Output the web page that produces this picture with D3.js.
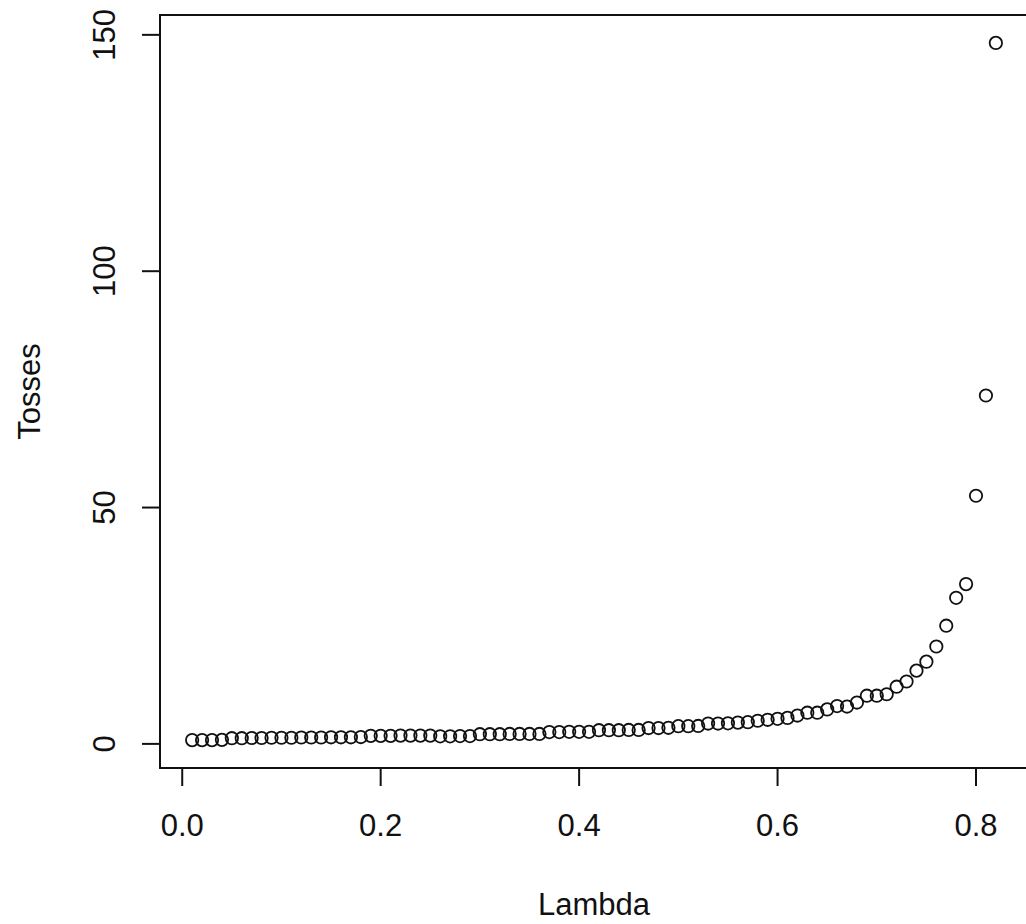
<!DOCTYPE html>
<html>
<head>
<meta charset="utf-8">
<script src="https://cdn.jsdelivr.net/npm/d3@7"></script>
<style>
    body { margin: 0; background: #fff; }
    text { font-family: "Liberation Sans", Arial, sans-serif; fill: #111; }
</style>
</head>
<body>
<div id="chart"></div>
<script>

// Data: lambda vs average number of tosses
var lambdas = d3.range(1, 83).map(d => d / 100);

var tosses = [
    0.8, 0.8, 0.8, 0.85, 1.2, 1.2, 1.25, 1.25, 1.3, 1.3,
    1.3, 1.35, 1.35, 1.35, 1.4, 1.4, 1.4, 1.45, 1.7, 1.7,
    1.7, 1.75, 1.75, 1.75, 1.75, 1.6, 1.6, 1.65, 1.65, 2.05,
    2.05, 2.05, 2.1, 2.1, 2.1, 2.1, 2.5, 2.5, 2.55, 2.55,
    2.55, 2.9, 2.9, 2.9, 2.95, 2.95, 3.35, 3.35, 3.4, 3.75,
    3.75, 3.8, 4.3, 4.3, 4.35, 4.5, 4.6, 4.9, 5.1, 5.3,
    5.5, 6.0, 6.6, 6.6, 7.3, 8.0, 7.9, 8.75, 10.2, 10.2,
    10.5, 12.1, 13.2, 15.5, 17.4, 20.6, 25.0, 30.9, 33.8, 52.5,
    73.7, 148.3
];

var xTicks = [0, 0.2, 0.4, 0.6, 0.8],
    yTicks = [0, 50, 100, 150];

var xLabel = "Lambda",
    yLabel = "Tosses";

var data = lambdas.map((d, i) => ({ lambda: d, tosses: tosses[i] }));

///////////////////////////////////////////////////////////////////////////
///////////////////////////// Set up the SVG //////////////////////////////
///////////////////////////////////////////////////////////////////////////

var width = 1026,
    height = 924;

var box = { left: 160, right: 1028, top: 15, bottom: 768 };

var svg = d3.select("#chart")
    .append("svg")
        .attr("width", width)
        .attr("height", height);

// R style 4% padding of the data range
function padded(extent) {
    var r = extent[1] - extent[0];
    return [extent[0] - 0.04 * r, extent[1] + 0.04 * r];
}

var x = d3.scaleLinear()
    .domain(padded(d3.extent(data, d => d.lambda)))
    .range([box.left, box.right]);

var y = d3.scaleLinear()
    .domain(padded(d3.extent(data, d => d.tosses)))
    .range([box.bottom, box.top]);

///////////////////////////////////////////////////////////////////////////
////////////////////////////////// Axes ///////////////////////////////////
///////////////////////////////////////////////////////////////////////////

var tickLen = 18,
    fontSize = 31;

// x axis
svg.append("g")
    .selectAll("line")
    .data(xTicks)
    .enter()
    .append("line")
        .attr("x1", d => x(d))
        .attr("x2", d => x(d))
        .attr("y1", box.bottom)
        .attr("y2", box.bottom + tickLen)
        .style("stroke", "#111")
        .style("stroke-width", 2);

svg.append("g")
    .selectAll("text")
    .data(xTicks)
    .enter()
    .append("text")
        .attr("x", d => x(d))
        .attr("y", 836)
        .attr("text-anchor", "middle")
        .style("font-size", fontSize + "px")
        .text(d => d3.format(".1f")(d));

// y axis
svg.append("g")
    .selectAll("line")
    .data(yTicks)
    .enter()
    .append("line")
        .attr("x1", box.left - tickLen)
        .attr("x2", box.left)
        .attr("y1", d => y(d))
        .attr("y2", d => y(d))
        .style("stroke", "#111")
        .style("stroke-width", 2);

svg.append("g")
    .selectAll("text")
    .data(yTicks)
    .enter()
    .append("text")
        .attr("transform", d => "translate(115," + y(d) + ") rotate(-90)")
        .attr("text-anchor", "middle")
        .style("font-size", fontSize + "px")
        .text(d => d);

// Axis titles
svg.append("text")
    .attr("x", (box.left + box.right) / 2)
    .attr("y", 915)
    .attr("text-anchor", "middle")
    .style("font-size", fontSize + "px")
    .text(xLabel);

svg.append("text")
    .attr("transform", "translate(40," + (box.top + box.bottom) / 2 + ") rotate(-90)")
    .attr("text-anchor", "middle")
    .style("font-size", fontSize + "px")
    .text(yLabel);

///////////////////////////////////////////////////////////////////////////
////////////////////////////////// Points /////////////////////////////////
///////////////////////////////////////////////////////////////////////////

svg.append("g")
    .selectAll("circle")
    .data(data)
    .enter()
    .append("circle")
        .attr("cx", d => x(d.lambda))
        .attr("cy", d => y(d.tosses))
        .attr("r", 6.2)
        .style("fill", "none")
        .style("stroke", "#111")
        .style("stroke-width", 1.8);

// Plot box
svg.append("rect")
    .attr("x", box.left)
    .attr("y", box.top)
    .attr("width", box.right - box.left)
    .attr("height", box.bottom - box.top)
    .style("fill", "none")
    .style("stroke", "#111")
    .style("stroke-width", 2);

</script>
</body>
</html>
